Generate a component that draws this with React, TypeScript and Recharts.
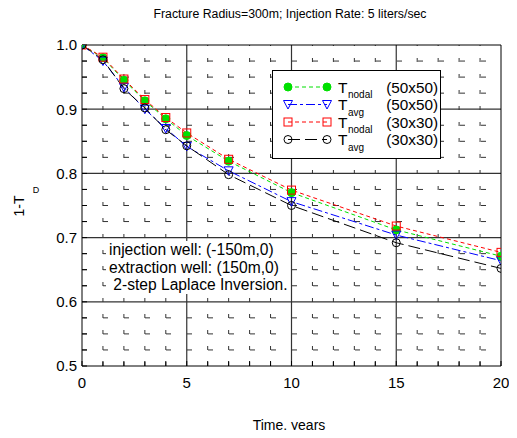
import React from 'react';
import { LineChart, Line, XAxis, YAxis, ReferenceLine } from 'recharts';

// time points, years
const years = [0, 1, 2, 3, 4, 5, 7, 10, 15, 20];
// 1-T_D values
const nodal50 = [1.0, 0.98, 0.945, 0.913, 0.885, 0.859, 0.819, 0.77, 0.712, 0.671];
const avg50 = [1.0, 0.975, 0.934, 0.9, 0.87, 0.842, 0.804, 0.756, 0.704, 0.664];
const nodal30 = [1.0, 0.981, 0.947, 0.915, 0.887, 0.863, 0.822, 0.774, 0.718, 0.677];
const avg30 = [1.0, 0.977, 0.932, 0.902, 0.868, 0.843, 0.798, 0.75, 0.692, 0.652];

const xTicks = [0, 1, 2, 3, 4, 5, 6, 7, 8, 9, 10, 11, 12, 13, 14, 15, 16, 17, 18, 19, 20];
const yTicks = [
  0.5, 0.525, 0.55, 0.575, 0.6, 0.625, 0.65, 0.675, 0.7, 0.725, 0.75,
  0.775, 0.8, 0.825, 0.85, 0.875, 0.9, 0.925, 0.95, 0.975, 1.0,
];
const xMajor = [5, 10, 15];
const yMajor = [0.6, 0.7, 0.8, 0.9];
const xMinor = [1, 2, 3, 4, 6, 7, 8, 9, 11, 12, 13, 14, 16, 17, 18, 19];
const yMinor = [
  0.525, 0.55, 0.575, 0.625, 0.65, 0.675, 0.725, 0.75, 0.775,
  0.825, 0.85, 0.875, 0.925, 0.95, 0.975,
];

const annotation = [
  'injection well: (-150m,0)',
  'extraction well: (150m,0)',
  ' 2-step Laplace Inversion.',
];

const data = years.map((t, i) => ({
  t,
  n50: nodal50[i],
  a50: avg50[i],
  n30: nodal30[i],
  a30: avg30[i],
}));

type Kind = 'dot' | 'tri' | 'square' | 'circle';

const series: Array<{ key: string; sub: string; mesh: string; color: string; dash: string; kind: Kind }> = [
  { key: 'n50', sub: 'nodal', mesh: '(50x50)', color: '#00e000', dash: '4 3', kind: 'dot' },
  { key: 'a50', sub: 'avg', mesh: '(50x50)', color: '#0000ff', dash: '9 3 3 3', kind: 'tri' },
  { key: 'n30', sub: 'nodal', mesh: '(30x30)', color: '#ff0000', dash: '4 3', kind: 'square' },
  { key: 'a30', sub: 'avg', mesh: '(30x30)', color: '#000000', dash: '12 5', kind: 'circle' },
];

const FONT = '"Liberation Sans", Arial, sans-serif';

function marker(kind: Kind, cx: number, cy: number, color: string, key?: string) {
  if (cx == null || cy == null) return <g key={key} />;
  switch (kind) {
    case 'dot':
      return <circle key={key} cx={cx} cy={cy} r={4} fill={color} stroke={color} />;
    case 'tri':
      return (
        <polygon
          key={key}
          points={`${cx - 4.5},${cy - 4} ${cx + 4.5},${cy - 4} ${cx},${cy + 4.5}`}
          fill="none"
          stroke={color}
        />
      );
    case 'square':
      return <rect key={key} x={cx - 4} y={cy - 4} width={8} height={8} fill="none" stroke={color} />;
    default:
      return <circle key={key} cx={cx} cy={cy} r={4} fill="none" stroke={color} />;
  }
}

const isMajorY = (v: number) => Math.abs(v * 10 - Math.round(v * 10)) < 1e-6;

export default function App() {
  return (
    <div style={{ position: 'relative', width: 517, height: 438, margin: -8, background: '#fff', fontFamily: FONT }}>
      <LineChart width={517} height={438} data={data} margin={{ top: 45, right: 16, bottom: 42, left: 0 }}>
        <XAxis
          dataKey="t"
          type="number"
          domain={[0, 20]}
          ticks={xTicks}
          interval={0}
          allowDataOverflow
          height={30}
          tickSize={-5}
          tickMargin={16}
          stroke="#000"
          tick={{ fill: '#000', fontSize: 15, fontFamily: FONT }}
          tickFormatter={(v: number) => (v % 5 === 0 ? String(v) : '')}
        />
        <YAxis
          type="number"
          domain={[0.5, 1.0]}
          ticks={yTicks}
          interval={0}
          allowDataOverflow
          width={82}
          tickSize={-5}
          tickMargin={10}
          stroke="#000"
          tick={{ fill: '#000', fontSize: 15, fontFamily: FONT }}
          tickFormatter={(v: number) => (isMajorY(v) ? v.toFixed(1) : '')}
        />
        {xMinor.map((v) => (
          <ReferenceLine key={`xm${v}`} x={v} stroke="#333" strokeDasharray="4 12" />
        ))}
        {yMinor.map((v) => (
          <ReferenceLine key={`ym${v}`} y={v} stroke="#333" strokeDasharray="5 16" />
        ))}
        {xMajor.map((v) => (
          <ReferenceLine key={`xM${v}`} x={v} stroke="#333" strokeWidth={1.2} />
        ))}
        {yMajor.map((v) => (
          <ReferenceLine key={`yM${v}`} y={v} stroke="#333" strokeWidth={1.2} />
        ))}
        <ReferenceLine y={1.0} stroke="#000" />
        <ReferenceLine x={20} stroke="#000" />
        {series.map((s) => (
          <Line
            key={s.key}
            dataKey={s.key}
            type="linear"
            stroke={s.color}
            strokeWidth={1}
            strokeDasharray={s.dash}
            isAnimationActive={false}
            dot={(p: any) => marker(s.kind, p.cx, p.cy, s.color, `${s.key}-${p.index}`)}
            activeDot={false}
          />
        ))}
      </LineChart>

      {/* title */}
      <div
        style={{
          position: 'absolute', left: 0, top: 7, width: 580, textAlign: 'center',
          fontSize: 12.3, lineHeight: '14px', color: '#000',
        }}
      >
        Fracture Radius=300m; Injection Rate: 5 liters/sec
      </div>

      {/* x axis title */}
      <div
        style={{
          position: 'absolute', left: 0, top: 417, width: 578, textAlign: 'center',
          fontSize: 14, lineHeight: '16px', color: '#000',
        }}
      >
        Time, years
      </div>

      {/* y axis title */}
      <svg style={{ position: 'absolute', left: 0, top: 0 }} width={60} height={438}>
        <text x={19} y={206} transform="rotate(-90 19 206)" textAnchor="middle" dominantBaseline="central"
          fontSize={14} fontFamily={FONT} fill="#000">1-T</text>
        <text x={36} y={190} textAnchor="middle" dominantBaseline="central" fontSize={9} fontFamily={FONT} fill="#000">D</text>
      </svg>

      {/* annotation */}
      <div
        style={{
          position: 'absolute', left: 106, top: 241, width: 180, height: 53, background: '#fff',
          fontSize: 15.6, lineHeight: '17.5px', color: '#000', whiteSpace: 'pre', paddingLeft: 3,
          boxSizing: 'border-box',
        }}
      >
        {annotation.map((l) => (
          <div key={l}>{l}</div>
        ))}
      </div>

      {/* legend */}
      <svg style={{ position: 'absolute', left: 272, top: 70 }} width={170} height={90}>
        <rect x={0.5} y={0.5} width={168} height={88} fill="#fff" stroke="#000" />
        {series.map((s, i) => {
          const cy = 17 + i * 17.5;
          return (
            <g key={s.key}>
              <line x1={16} x2={55} y1={cy} y2={cy} stroke={s.color} strokeDasharray={s.dash} />
              {marker(s.kind, 16, cy, s.color)}
              {marker(s.kind, 55, cy, s.color)}
              <text x={66} y={cy + 5.5} fontSize={15.5} fontFamily={FONT} fill="#000">T</text>
              <text x={76} y={cy + 11} fontSize={10} fontFamily={FONT} fill="#000">{s.sub}</text>
              <text x={166} y={cy + 5.5} textAnchor="end" fontSize={15.3} fontFamily={FONT} fill="#000">{s.mesh}</text>
            </g>
          );
        })}
      </svg>
    </div>
  );
}
